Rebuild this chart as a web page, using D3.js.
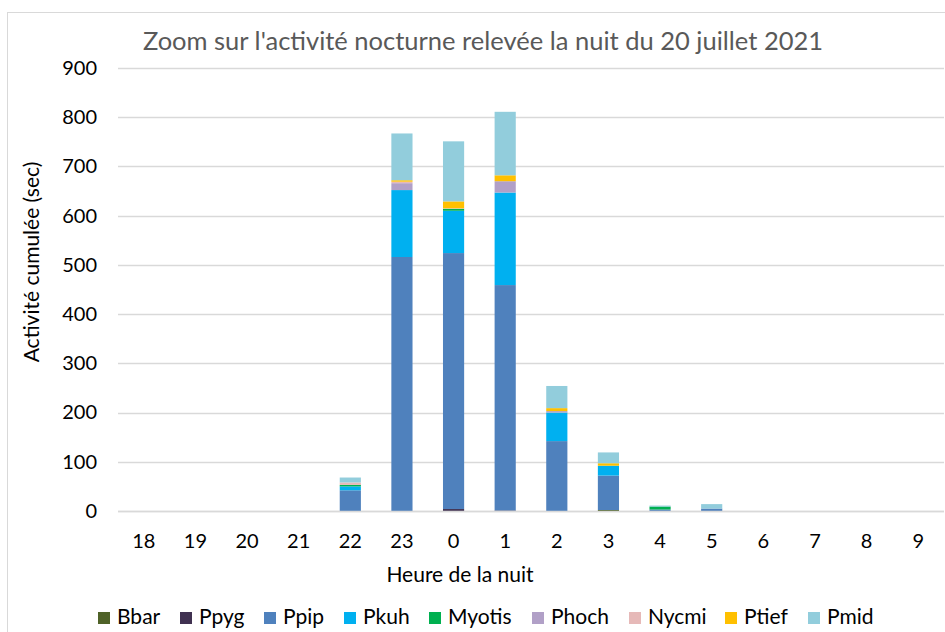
<!DOCTYPE html>
<html>
<head>
<meta charset="utf-8">
<script src="https://cdn.jsdelivr.net/npm/d3@7"></script>
<style>
body { margin: 0; background: #fff; }
svg { display: block; font-family: Lato, "Open Sans", sans-serif; }
</style>
</head>
<body>
<svg id="chart"></svg>
<script>
const hours = ['18','19','20','21','22','23','0','1','2','3','4','5','6','7','8','9'];
const species = ['Bbar','Ppyg','Ppip','Pkuh','Myotis','Phoch','Nycmi','Ptief','Pmid'];
const colors = ['#4f6228','#403151','#4f81bd','#00b0f0','#00b050','#b1a0c7','#e6b9b8','#ffc000','#92cddc'];

// one array per species, one value per hour (18 .. 9)
const Bbar   = [0,0,0,0,0,0,0,0,0,2,0,0,0,0,0,0];
const Ppyg   = [0,0,0,0,0,0,4,1,0,0,0,0,0,0,0,0];
const Ppip   = [0,0,0,0,42,516,520,458,142,70,3,5,0,0,0,0];
const Pkuh   = [0,0,0,0,8,136,86,188,58,20,0,0,0,0,0,0];
const Myotis = [0,0,0,0,3,0,4,0,0,0,6,0,0,0,0,0];
const Phoch  = [0,0,0,0,0,14,0,23,3,0,0,0,0,0,0,0];
const Nycmi  = [0,0,0,0,5,3,1,0,0,0,0,0,0,0,0,0];
const Ptief  = [0,0,0,0,0,3,14,12,6,5,0,0,0,0,0,0];
const Pmid   = [0,0,0,0,10,95,122,129,45,22,2,9,0,0,0,0];
const yTicks = [0,100,200,300,400,500,600,700,800,900];

const seriesValues = [Bbar,Ppyg,Ppip,Pkuh,Myotis,Phoch,Nycmi,Ptief,Pmid];

const width = 945, height = 632;
const margin = {top: 68, right: 1, bottom: 121, left: 118};

var svg = d3.select('#chart').attr('width', width).attr('height', height);

// outer chart border
svg.append('rect')
	.attr('x', 7.5).attr('y', 12.5)
	.attr('width', width).attr('height', height)
	.style('fill', 'none').style('stroke', '#d9d9d9');

var rows = hours.map((h, i) => {
	var r = {hour: h};
	species.forEach((s, j) => r[s] = seriesValues[j][i]);
	return r;
});
var stacked = d3.stack().keys(species)(rows);

var x = d3.scaleBand().domain(hours)
	.range([margin.left, width - margin.right]).paddingInner(0.59).paddingOuter(0.295);
var y = d3.scaleLinear().domain([0, 900]).range([height - margin.bottom, margin.top]);

// gridlines
svg.append('g').selectAll('line.grid')
	.data(yTicks).enter().append('line')
	.classed('grid', true)
	.attr('x1', margin.left).attr('x2', width - margin.right)
	.attr('y1', d => Math.round(y(d)) + 0.5).attr('y2', d => Math.round(y(d)) + 0.5)
	.style('stroke', '#d9d9d9').style('stroke-width', 1.3);

// bars
svg.append('g').selectAll('g.layer')
	.data(stacked).enter().append('g')
	.classed('layer', true)
	.style('fill', (d, i) => colors[i])
	.selectAll('rect')
	.data(d => d).enter().append('rect')
	.attr('x', d => x(d.data.hour))
	.attr('width', x.bandwidth())
	.attr('y', d => y(d[1]))
	.attr('height', d => y(d[0]) - y(d[1]));

// y axis labels
var yAxis = svg.append('g')
	.attr('transform', 'translate(' + (margin.left - 21) + ',0)')
	.call(d3.axisLeft(y).tickValues(yTicks).tickSize(0).tickPadding(0));
yAxis.select('.domain').remove();
yAxis.selectAll('text').style('font-size', '20px').style('fill', '#000')
	.style('font-family', 'Lato, sans-serif');

// x axis labels
var xAxis = svg.append('g')
	.attr('transform', 'translate(0,' + (height - margin.bottom) + ')')
	.call(d3.axisBottom(x).tickSize(0).tickPadding(23));
xAxis.select('.domain').remove();
xAxis.selectAll('text').style('font-size', '20px').style('fill', '#000')
	.style('font-family', 'Lato, sans-serif');

// baseline
svg.append('line')
	.attr('x1', margin.left).attr('x2', width - margin.right)
	.attr('y1', Math.round(y(0)) + 0.5).attr('y2', Math.round(y(0)) + 0.5)
	.style('stroke', '#d9d9d9').style('stroke-width', 1.3);

// titles
svg.append('text')
	.attr('x', 483).attr('y', 50)
	.attr('text-anchor', 'middle')
	.style('font-size', '25.5px').style('fill', '#595959')
	.text("Zoom sur l'activité nocturne relevée la nuit du 20 juillet 2021");

svg.append('text')
	.attr('x', 460).attr('y', 582)
	.attr('text-anchor', 'middle')
	.style('font-size', '21px').style('fill', '#000')
	.text('Heure de la nuit');

svg.append('text')
	.attr('transform', 'translate(39,' + 262 + ') rotate(-90)')
	.attr('text-anchor', 'middle')
	.style('font-size', '21px').style('fill', '#000')
	.text('Activité cumulée (sec)');

// legend
var legendX = [98, 180, 264, 344, 429, 532, 629, 725, 808];
var legend = svg.append('g').attr('transform', 'translate(0,624)');
var item = legend.selectAll('g.item')
	.data(species).enter().append('g')
	.classed('item', true)
	.attr('transform', (d, i) => 'translate(' + legendX[i] + ',0)');
item.append('rect')
	.attr('x', 0).attr('y', -12).attr('width', 12).attr('height', 12)
	.style('fill', (d, i) => colors[i]);
item.append('text')
	.attr('x', 19).attr('y', 0)
	.style('font-size', '21px').style('fill', '#000')
	.text(d => d);
</script>
</body>
</html>
